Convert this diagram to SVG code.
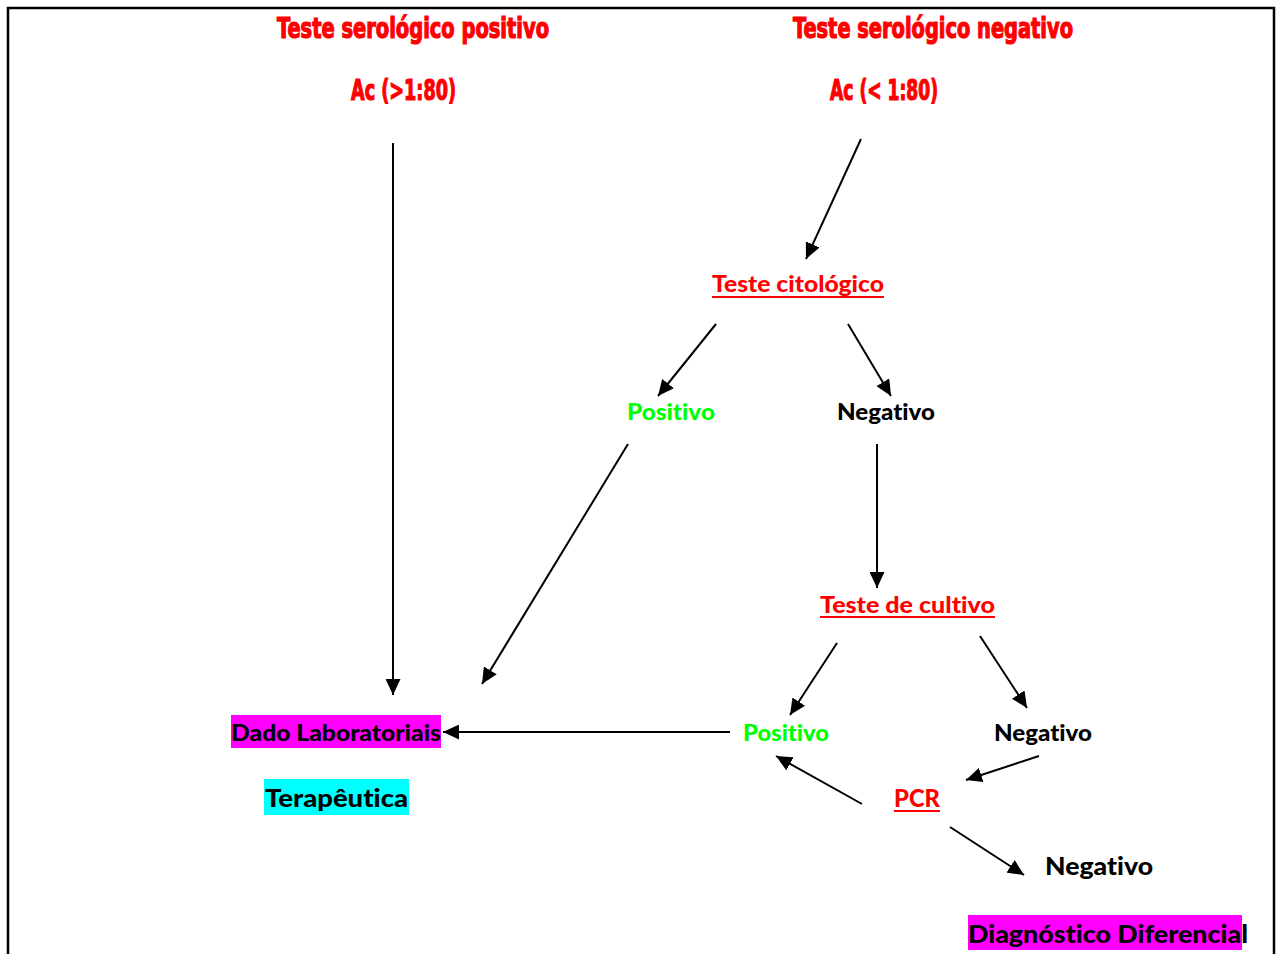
<svg xmlns="http://www.w3.org/2000/svg" width="1280" height="954" viewBox="0 0 1280 954">
<style>
.title{font-family:"Liberation Sans Narrow","DejaVu Sans Condensed","Liberation Sans",sans-serif;font-weight:bold;font-size:28px;fill:#FF0000;stroke:#FF0000;stroke-width:1.2;font-stretch:condensed}
.lbl{font-family:Lato,"Open Sans","Liberation Sans",sans-serif;font-weight:900;font-size:23px;font-variant-ligatures:none}
.red{fill:#FF0000}
.grn{fill:#00FF00}
.blk{fill:#000}
.ul{stroke:#FF0000;stroke-width:2}
.conn line{stroke:#000;stroke-width:2;marker-end:url(#ah)}
</style>
<defs>
<marker id="ah" markerUnits="userSpaceOnUse" markerWidth="17" markerHeight="15" refX="16" refY="7.5" orient="auto">
<path d="M0,0 L16,7.5 L0,15 Z" fill="#000"/>
</marker>
</defs>
<rect x="0" y="0" width="1280" height="954" fill="#fff"/>
<path d="M8,960 L8,8 L1274,8 L1274,960" fill="none" stroke="#000" stroke-width="2.5"/>

<g id="n-sero-pos">
<text class="title" x="277" y="38" textLength="272" lengthAdjust="spacingAndGlyphs">Teste serológico positivo</text>
<text class="title" x="351" y="100" textLength="105" lengthAdjust="spacingAndGlyphs">Ac (&gt;1:80)</text>
</g>
<g id="n-sero-neg">
<text class="title" x="793" y="38" textLength="280" lengthAdjust="spacingAndGlyphs">Teste serológico negativo</text>
<text class="title" x="830" y="100" textLength="108" lengthAdjust="spacingAndGlyphs">Ac (&lt; 1:80)</text>
</g>
<g id="n-citologico">
<text class="lbl red" x="712" y="292" textLength="172" lengthAdjust="spacingAndGlyphs">Teste citológico</text>
<line class="ul" x1="712" y1="297" x2="884" y2="297"/>
</g>
<g id="n-pos1">
<text class="lbl grn" x="627" y="420" textLength="88" lengthAdjust="spacingAndGlyphs">Positivo</text>
</g>
<g id="n-neg1">
<text class="lbl blk" x="837" y="420" textLength="98" lengthAdjust="spacingAndGlyphs">Negativo</text>
</g>
<g id="n-cultivo">
<text class="lbl red" x="820" y="613" textLength="175" lengthAdjust="spacingAndGlyphs">Teste de cultivo</text>
<line class="ul" x1="820" y1="617" x2="995" y2="617"/>
</g>
<g id="n-pos2">
<text class="lbl grn" x="743" y="741" textLength="86" lengthAdjust="spacingAndGlyphs">Positivo</text>
</g>
<g id="n-neg2">
<text class="lbl blk" x="994" y="741" textLength="98" lengthAdjust="spacingAndGlyphs">Negativo</text>
</g>
<g id="n-dado">
<rect x="231" y="715" width="210" height="33" fill="#FF00FF"/>
<text class="lbl blk" x="231" y="741" textLength="210" lengthAdjust="spacingAndGlyphs">Dado Laboratoriais</text>
</g>
<g id="n-terapeutica">
<rect x="264" y="779" width="145" height="36" fill="#00FFFF"/>
<text class="lbl blk" x="265" y="807" textLength="143" lengthAdjust="spacingAndGlyphs" style="font-size:25px">Terapêutica</text>
</g>
<g id="n-pcr">
<text class="lbl red" x="894" y="807" textLength="46" lengthAdjust="spacingAndGlyphs" style="font-size:25px">PCR</text>
<line class="ul" x1="894" y1="811" x2="940" y2="811"/>
</g>
<g id="n-neg3">
<text class="lbl blk" x="1045" y="875" textLength="108" lengthAdjust="spacingAndGlyphs" style="font-size:25px">Negativo</text>
</g>
<g id="n-diag">
<rect x="968" y="915" width="274" height="35" fill="#FF00FF"/>
<text class="lbl blk" x="968" y="943" textLength="280" lengthAdjust="spacingAndGlyphs" style="font-size:25px">Diagnóstico Diferencial</text>
</g>

<g id="connectors" class="conn">
<line x1="393" y1="143" x2="393" y2="695"/>
<line x1="861" y1="139" x2="806" y2="259"/>
<line x1="716" y1="324" x2="658" y2="396"/>
<line x1="848" y1="324" x2="891" y2="396"/>
<line x1="628" y1="444" x2="482" y2="684"/>
<line x1="877" y1="444" x2="877" y2="588"/>
<line x1="837" y1="643" x2="790" y2="715"/>
<line x1="980" y1="636" x2="1027" y2="708"/>
<line x1="730" y1="732" x2="443" y2="732"/>
<line x1="1039" y1="756" x2="966" y2="780"/>
<line x1="862" y1="804" x2="776" y2="756"/>
<line x1="950" y1="827" x2="1024" y2="875"/>
</g>
</svg>
